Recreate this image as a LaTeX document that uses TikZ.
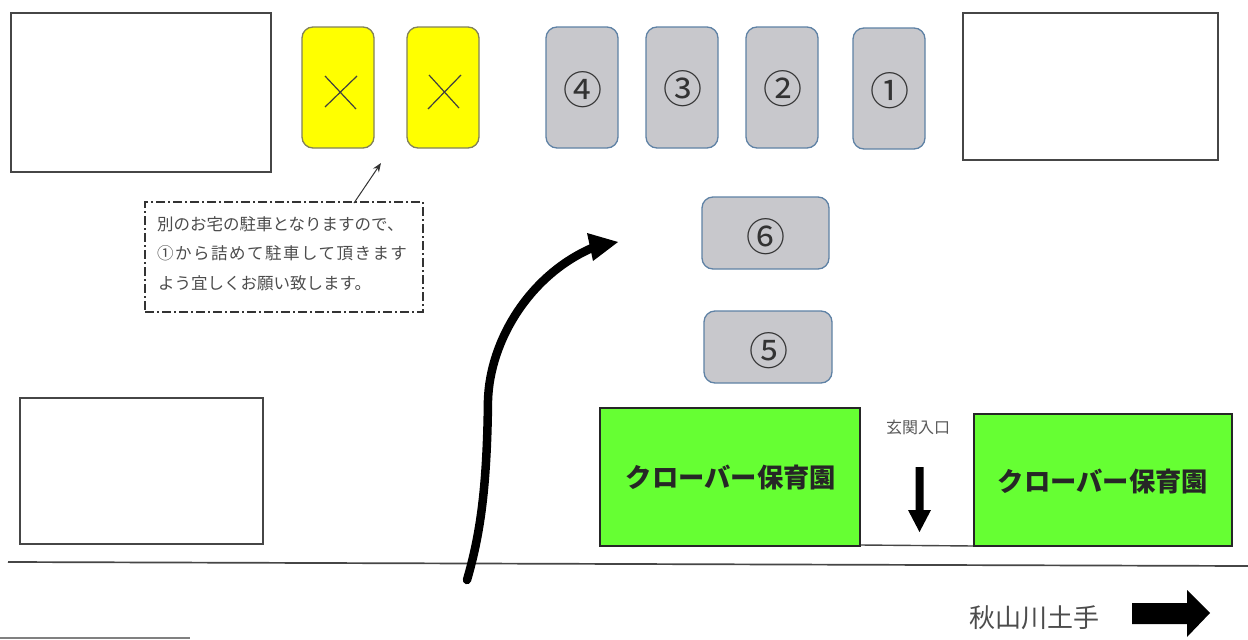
\documentclass[tikz,border=0pt]{standalone}
\usepackage{fontspec}
\newfontfamily\jp{Noto Sans CJK JP}
\newfontfamily\jpw[LetterSpace=9]{Noto Sans CJK JP}
\usetikzlibrary{arrows.meta}
\definecolor{sty}{RGB}{255,255,0}
\definecolor{sgr}{RGB}{200,200,204}
\definecolor{sgn}{RGB}{102,255,51}
\definecolor{ln}{RGB}{70,70,70}
\definecolor{sbl}{RGB}{95,130,165}
\definecolor{yln}{RGB}{130,130,90}
\tikzset{
 x=1pt,y=-1pt,
 house/.style={draw=ln,line width=1.6pt,fill=white},
 stall/.style={draw=#1,line width=1.3pt,rounded corners=11pt},
 num/.style={font=\jp\fontsize{39}{39}\selectfont,text=black!80,inner sep=0pt},
 nursery/.style={draw=black!85,line width=1.4pt,fill=sgn},
 nlabel/.style={font=\jp\bfseries\fontsize{26.3}{28}\selectfont,text=black!85,inner sep=0pt},
 noteline/.style={text=black!70,inner sep=0pt,anchor=west},
}
\newcommand{\rectnode}[6]{% name, style, x1,y1,x2,y2
 \path[#2] (#3,#4) rectangle (#5,#6);
 \coordinate (#1) at ({(#3+#5)/2},{(#4+#6)/2});}
\begin{document}
\begin{tikzpicture}
\useasboundingbox (0,0) rectangle (1248,640);
\fill[white] (0,0) rectangle (1248,640);
% houses
\rectnode{h1}{house}{11}{13}{271}{172}
\rectnode{h2}{house}{963}{13}{1218}{160}
\rectnode{h3}{house}{20}{398}{263}{544}
% roads
\draw[ln,line width=1.7pt] (8,562) -- (1248,566);
\draw[black!50,line width=1.5pt] (0,638) -- (190,638);
\draw[ln,line width=1.4pt] (860,545) -- (974,546);
% yellow stalls
\rectnode{y1}{stall=yln,fill=sty}{302}{27}{374}{148}
\rectnode{y2}{stall=yln,fill=sty}{407}{27}{479}{148}
\draw[black!75,line width=1.2pt] (325,76)--(356,109) (325,107)--(357,76);
\draw[black!75,line width=1.2pt] (429,75)--(459,108) (428,109)--(461,75);
% grey stalls
\rectnode{s4}{stall=sbl,fill=sgr}{546}{27}{618}{148}
\rectnode{s3}{stall=sbl,fill=sgr}{646}{27}{718}{148}
\rectnode{s2}{stall=sbl,fill=sgr}{746}{27}{818}{148}
\rectnode{s1}{stall=sbl,fill=sgr}{853}{28}{925}{149}
\rectnode{s6}{stall=sbl,fill=sgr}{702}{197}{829}{269}
\rectnode{s5}{stall=sbl,fill=sgr}{704}{311}{832}{383}
\node[num] (n4) at (583,90) {④};
\node[num] (n3) at (683,89) {③};
\node[num] (n2) at (783,89) {②};
\node[num] (n1) at (890,91) {①};
\node[num] (n6) at (766,237) {⑥};
\node[num] (n5) at (769,351) {⑤};
% nursery
\rectnode{g1}{nursery}{600}{408}{860}{546}
\rectnode{g2}{nursery}{974}{414}{1232}{546}
\node[nlabel] (l1) at (731,477) {クローバー保育園};
\node[nlabel] (l2) at (1103,481) {クローバー保育園};
\node[font=\jp\fontsize{16}{16}\selectfont,text=black!65,inner sep=0pt] (e) at (918,427) {玄関入口};
\node[font=\jp\fontsize{26}{26}\selectfont,text=black!70,inner sep=0pt] (r) at (1034,618) {秋山川土手};
% note
\node[draw=black!80,line width=1.4pt,dash pattern=on 9pt off 3pt on 2pt off 3pt,minimum width=278pt,minimum height=110pt,inner sep=0pt] (note) at (284,257) {};
\node[noteline,font=\jp\fontsize{16.5}{17}\selectfont] (nt1) at (157,224) {別のお宅の駐車となりますので、};
\node[noteline,font=\jpw\fontsize{16.5}{17}\selectfont] (nt2) at (157,253) {①から詰めて駐車して頂きます};
\node[noteline,font=\jp\fontsize{16.5}{17}\selectfont] (nt3) at (158,283) {よう宜しくお願い致します。};
\coordinate (a1) at (354,203);
\coordinate (a2) at (381,163);
\draw[black!80,line width=1pt,-{Stealth[length=9pt,width=7pt]}] (a1) -- (a2);
% entrance arrow
\fill[black] (915.5,467) -- (923.5,467) -- (923.5,510) -- (931,510) -- (919.5,532) -- (908,510) -- (915.5,510) -- cycle;
% right arrow
\fill[black] (1132,603) -- (1187,603) -- (1187,590) -- (1210,613) -- (1187,637) -- (1187,624) -- (1132,624) -- cycle;
% main curve
\coordinate (c0) at (467,580);
\coordinate (c1) at (592,248);
\draw[black,line width=8.5pt,line cap=round] (c0) .. controls (480,535) and (487,490) .. (488,400) .. controls (490,340) and (530,275) .. (c1);
\fill[black] (618,242) -- (587,233) -- (593,261) -- cycle;
\end{tikzpicture}
\end{document}
